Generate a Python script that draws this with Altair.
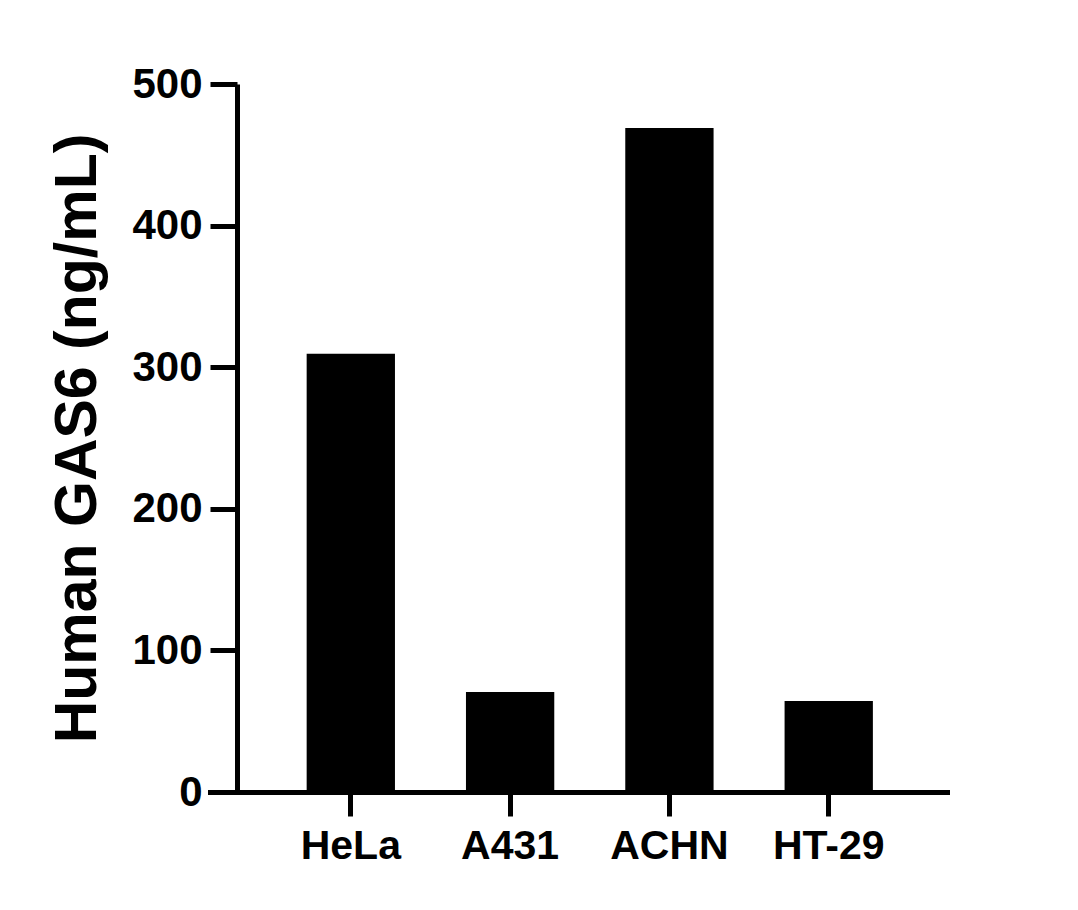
import pandas as pd
import altair as alt

cells = ["HeLa", "A431", "ACHN", "HT-29"]
gas6 = [309.5, 70.7, 469.0, 64.3]
y_ticks = [0, 100, 200, 300, 400, 500]

df = pd.DataFrame({"cell": cells, "gas6": gas6})

FONT = "Liberation Sans"

bars = (
    alt.Chart(df)
    .mark_bar(color="black")
    .encode(
        alt.X("cell:N", sort=cells)
        .scale(paddingInner=0.4457, paddingOuter=0.536, align=0.566)
        .axis(
            title=None,
            labelAngle=0,
            labelFont=FONT,
            labelFontWeight="bold",
            labelFontSize=41,
            labelColor="black",
            labelPadding=10,
            tickSize=24,
            tickWidth=5,
            tickColor="black",
            domainWidth=5,
            domainColor="black",
            domainCap="square",
        ),
        alt.Y("gas6:Q")
        .scale(domain=[0, 500], nice=False)
        .axis(
            title="Human GAS6 (ng/mL)",
            values=y_ticks,
            grid=False,
            offset=-27,
            labelFont=FONT,
            labelFontWeight="bold",
            labelFontSize=42,
            labelColor="black",
            labelPadding=8,
            tickSize=27,
            tickWidth=5,
            tickColor="black",
            domainWidth=5,
            domainColor="black",
            titleFont=FONT,
            titleFontWeight="bold",
            titleFontSize=59,
            titleColor="black",
            titlePadding=24,
        ),
    )
)

chart = (
    bars.properties(
        width=737,
        height=708,
        background="white",
        autosize=alt.AutoSizeParams(type="none"),
        padding={"left": 202, "top": 76, "right": 120, "bottom": 110},
    )
    .configure_view(strokeWidth=0, stroke="transparent")
)

chart.save("out.html", embed_options={"renderer": "svg", "actions": False})
